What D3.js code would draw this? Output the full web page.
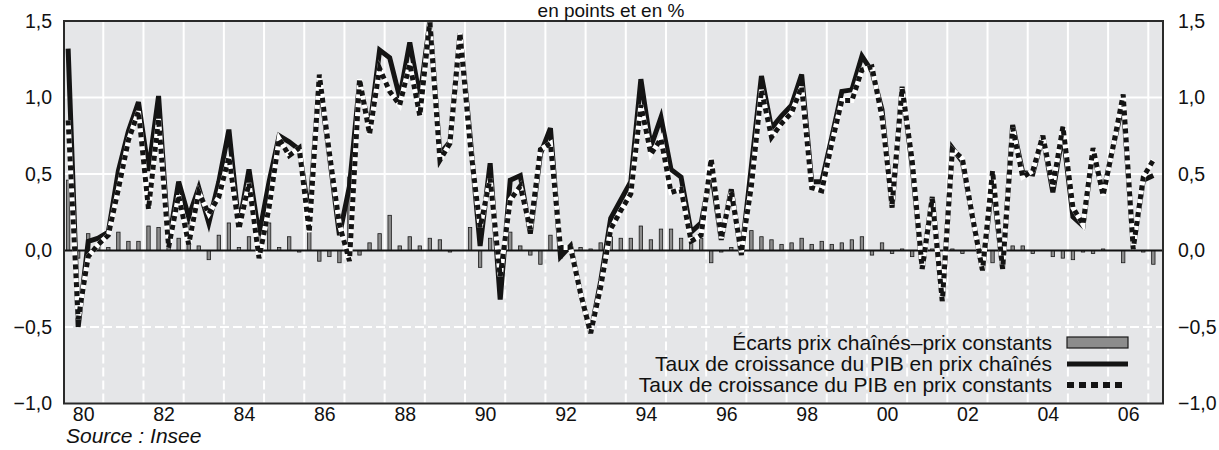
<!DOCTYPE html>
<html><head><meta charset="utf-8">
<script src="https://cdn.jsdelivr.net/npm/d3@7"></script>
<style>
body{margin:0;background:#fff}
svg{display:block}
text{font-family:"Liberation Sans",Arial,Helvetica,sans-serif;fill:#111}
</style>
</head><body>
<svg id="c" width="1219" height="450"></svg>
<script>
const title = "en points et en %";
const source = "Source : Insee";
const firstYear = 1980;
const quarters = d3.range(109).map(i => ({year: firstYear + Math.floor(i / 4), q: i % 4 + 1}));

const chained = [
  1.32, -0.50, 0.06, 0.08,
  0.12, 0.52, 0.78, 0.97,
  0.52, 1.01, 0.05, 0.45,
  0.22, 0.41, 0.18, 0.45,
  0.79, 0.16, 0.53, 0.10,
  0.45, 0.75, 0.71, 0.66,
  0.22, 1.12, 0.62, 0.10,
  0.42, 1.10, 0.79, 1.31,
  1.26, 1.00, 1.36, 1.00,
  1.50, 0.63, 0.71, 1.42,
  0.75, 0.03, 0.57, -0.32,
  0.46, 0.49, 0.11, 0.63,
  0.80, -0.04, 0.03, -0.28,
  -0.54, -0.20, 0.21, 0.33,
  0.45, 1.12, 0.68, 0.87,
  0.53, 0.48, 0.12, 0.18,
  0.52, 0.07, 0.40, -0.03,
  0.55, 1.14, 0.80, 0.88,
  0.95, 1.15, 0.45, 0.45,
  0.74, 1.04, 1.05, 1.27,
  1.17, 0.92, 0.28, 1.07,
  0.55, -0.12, 0.35, -0.33,
  0.67, 0.58, 0.22, -0.13,
  0.46, -0.12, 0.82, 0.51,
  0.50, 0.75, 0.38, 0.77,
  0.22, 0.16, 0.65, 0.37,
  0.68, 0.97, 0.02, 0.46,
  0.49
];

const constant = [
  0.85, -0.45, -0.04, 0.04,
  0.10, 0.40, 0.72, 0.91,
  0.27, 0.86, 0.02, 0.36,
  0.04, 0.38, 0.24, 0.35,
  0.61, 0.14, 0.44, -0.05,
  0.28, 0.73, 0.62, 0.67,
  0.12, 1.15, 0.64, 0.17,
  -0.07, 1.12, 0.76, 1.19,
  1.04, 0.95, 1.22, 0.88,
  1.49, 0.59, 0.70, 1.42,
  0.70, 0.15, 0.47, -0.17,
  0.33, 0.42, 0.14, 0.66,
  0.70, 0.02, 0.02, -0.28,
  -0.54, -0.24, 0.14, 0.26,
  0.37, 0.95, 0.63, 0.73,
  0.38, 0.40, 0.06, 0.10,
  0.60, 0.08, 0.38, -0.01,
  0.42, 1.05, 0.74, 0.83,
  0.90, 1.07, 0.41, 0.39,
  0.70, 0.98, 0.98, 1.18,
  1.20, 0.87, 0.30, 1.06,
  0.59, -0.12, 0.34, -0.33,
  0.66, 0.60, 0.22, -0.13,
  0.52, -0.12, 0.80, 0.48,
  0.52, 0.75, 0.42, 0.81,
  0.28, 0.17, 0.67, 0.36,
  0.68, 1.02, 0.01, 0.48,
  0.59
];

const ecarts = [
  0.46, -0.05, 0.11, 0.04,
  0.02, 0.12, 0.06, 0.06,
  0.16, 0.15, 0.03, 0.08,
  0.18, 0.03, -0.06, 0.10,
  0.18, 0.02, 0.09, 0.15,
  0.18, 0.02, 0.09, -0.01,
  0.17, -0.07, -0.04, -0.08,
  0.48, -0.03, 0.05, 0.11,
  0.23, 0.03, 0.09, 0.03,
  0.08, 0.07, -0.01, 0.00,
  0.15, -0.11, 0.08, -0.14,
  0.12, 0.03, -0.03, -0.09,
  0.10, -0.05, 0.01, 0.02,
  0.01, 0.05, 0.09, 0.08,
  0.08, 0.16, 0.07, 0.14,
  0.14, 0.08, 0.06, 0.08,
  -0.08, -0.01, 0.02, -0.02,
  0.13, 0.09, 0.07, 0.04,
  0.05, 0.08, 0.04, 0.06,
  0.04, 0.05, 0.07, 0.09,
  -0.03, 0.05, -0.02, 0.01,
  -0.04, 0.00, 0.01, 0.00,
  0.01, -0.02, 0.00, 0.00,
  -0.08, 0.00, 0.03, 0.03,
  -0.02, 0.00, -0.04, -0.05,
  -0.06, -0.01, -0.02, 0.01,
  0.00, -0.08, 0.02, -0.01,
  -0.09
];

const yTicks = [-1, -0.5, 0, 0.5, 1, 1.5];
const xTickYears = [1980, 1982, 1984, 1986, 1988, 1990, 1992, 1994, 1996, 1998, 2000, 2002, 2004, 2006];
const xTickLabels = ["80", "82", "84", "86", "88", "90", "92", "94", "96", "98", "00", "02", "04", "06"];
const legendLabels = [
  "Écarts prix chaînés\u2013prix constants",
  "Taux de croissance du PIB en prix chaînés",
  "Taux de croissance du PIB en prix constants"
];

// ---- layout ----
const plotL = 64, plotR = 1163, plotT = 21, plotB = 403.5;
const svg = d3.select("#c");
const x = d3.scaleLinear().domain([1980, 2007]).range([63.1, 1148.3]);
const y = d3.scaleLinear().domain([-1, 1.5]).range([plotB, plotT]);
const tq = d => d.year + (d.q - 0.5) / 4;

const loc = d3.formatLocale({decimal: ",", thousands: " ", grouping: [3], currency: ["", "€"], minus: "\u2212"});
const fmt = loc.format(".1f");

svg.append("rect").attr("x", plotL).attr("y", plotT).attr("width", plotR - plotL).attr("height", plotB - plotT)
  .attr("fill", "#e5e6e8");

// grid
const gridYears = d3.range(1981, 2008);
const g = svg.append("g");
g.selectAll(".vu").data(gridYears).join("line")
  .attr("x1", d => x(d)).attr("x2", d => x(d)).attr("y1", y(1.5)).attr("y2", y(0))
  .attr("stroke", "#fff").attr("stroke-width", 2);
g.selectAll(".vl").data(gridYears).join("line")
  .attr("x1", d => x(d)).attr("x2", d => x(d)).attr("y1", y(0)).attr("y2", y(-1))
  .attr("stroke", "#fff").attr("stroke-width", 2).attr("stroke-dasharray", "9,4");
g.selectAll(".h").data([0.5, 1.0]).join("line")
  .attr("x1", plotL).attr("x2", plotR).attr("y1", d => y(d)).attr("y2", d => y(d))
  .attr("stroke", "#fff").attr("stroke-width", 2);
g.selectAll(".hd").data([-0.5]).join("line")
  .attr("x1", plotL).attr("x2", plotR).attr("y1", d => y(d)).attr("y2", d => y(d))
  .attr("stroke", "#fff").attr("stroke-width", 2).attr("stroke-dasharray", "9,4");

// bars
const bw = 3.4;
svg.append("g").selectAll("rect").data(quarters).join("rect")
  .attr("x", d => x(tq(d)) - bw / 2)
  .attr("width", bw)
  .attr("y", (d, i) => y(Math.max(0, ecarts[i])))
  .attr("height", (d, i) => Math.abs(y(ecarts[i]) - y(0)))
  .attr("fill", "#8c8c8c").attr("stroke", "#1a1a1a").attr("stroke-width", 0.8);

// zero line
svg.append("line").attr("x1", plotL).attr("x2", plotR).attr("y1", y(0)).attr("y2", y(0))
  .attr("stroke", "#111").attr("stroke-width", 2);

// lines
const lineGen = arr => d3.line().x(d => x(tq(d))).y((d, i) => y(arr[i]));
svg.append("path").datum(quarters).attr("d", lineGen(chained))
  .attr("fill", "none").attr("stroke", "#141414").attr("stroke-width", 5).attr("stroke-linejoin", "miter");
svg.append("path").datum(quarters).attr("d", lineGen(constant))
  .attr("fill", "none").attr("stroke", "#fff").attr("stroke-width", 5).attr("stroke-linejoin", "miter");
svg.append("path").datum(quarters).attr("d", lineGen(constant))
  .attr("fill", "none").attr("stroke", "#141414").attr("stroke-width", 5).attr("stroke-linejoin", "miter")
  .attr("stroke-dasharray", "5,4");

// border
svg.append("rect").attr("x", plotL).attr("y", plotT).attr("width", plotR - plotL).attr("height", plotB - plotT)
  .attr("fill", "none").attr("stroke", "#2a2a2a").attr("stroke-width", 2);

// axes
const fs = "19.5px";
const ax1 = svg.append("g").attr("transform", `translate(${plotL},0)`)
  .call(d3.axisLeft(y).tickValues(yTicks).tickFormat(fmt).tickSize(0).tickPadding(12));
ax1.select(".domain").remove();
ax1.selectAll("text").style("font-size", fs).style("font-family", "Liberation Sans, Arial, sans-serif").attr("fill", "#111");

const ax2 = svg.append("g").attr("transform", `translate(${plotR},0)`)
  .call(d3.axisRight(y).tickValues(yTicks).tickFormat(fmt).tickSize(0).tickPadding(15));
ax2.select(".domain").remove();
ax2.selectAll("text").style("font-size", fs).style("font-family", "Liberation Sans, Arial, sans-serif").attr("fill", "#111");

const ax3 = svg.append("g").attr("transform", `translate(0,${plotB})`)
  .call(d3.axisBottom(x).tickValues(xTickYears.map(v => v + 0.5))
    .tickFormat((d, i) => xTickLabels[i]).tickSize(0).tickPadding(4));
ax3.select(".domain").remove();
ax3.selectAll("text").style("font-size", fs).style("font-family", "Liberation Sans, Arial, sans-serif").attr("fill", "#111");

// title & source
svg.append("text").attr("x", 611).attr("y", 17).attr("text-anchor", "middle")
  .style("font-size", "19px").text(title);
svg.append("text").attr("x", 66).attr("y", 443).style("font-size", "21px").style("font-style", "italic").text(source);

// legend
const legY = [343, 364, 385];
const lg = svg.append("g");
lg.selectAll("text").data(legendLabels).join("text")
  .attr("x", 1052).attr("y", (d, i) => legY[i]).attr("dy", "0.35em").attr("text-anchor", "end")
  .style("font-size", "21px").text(d => d);
lg.append("rect").attr("x", 1067).attr("y", legY[0] - 6).attr("width", 61).attr("height", 11)
  .attr("fill", "#8c8c8c").attr("stroke", "#1a1a1a").attr("stroke-width", 1.2);
lg.append("line").attr("x1", 1067).attr("x2", 1128).attr("y1", legY[1]).attr("y2", legY[1])
  .attr("stroke", "#141414").attr("stroke-width", 5);
lg.append("line").attr("x1", 1067).attr("x2", 1126).attr("y1", legY[2]).attr("y2", legY[2])
  .attr("stroke", "#141414").attr("stroke-width", 6).attr("stroke-dasharray", "7,5");
</script>
</body></html>
